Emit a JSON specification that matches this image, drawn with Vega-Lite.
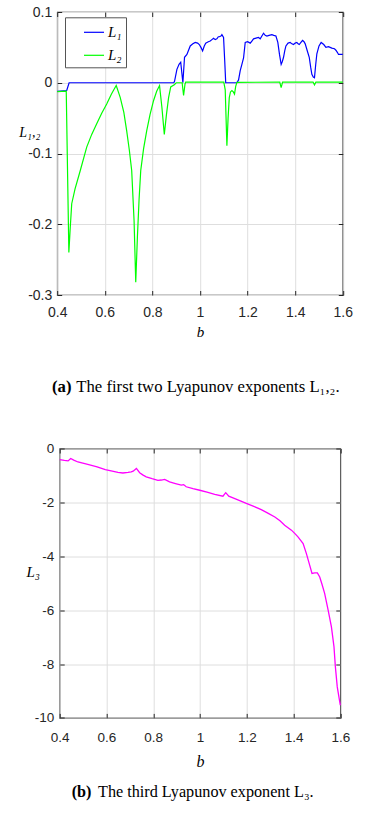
{
  "$schema": "https://vega.github.io/schema/vega-lite/v6.json",
  "padding": {"left": 18, "top": 4, "right": 5, "bottom": 5},
  "background": "white",
  "config": {
    "view": {"stroke": "#262626", "strokeWidth": 1.2},
    "font": "Liberation Sans"
  },
  "datasets": {
    "top": [
      {"b": 0.40, "L": -0.012, "s": "L₁"}, {"b": 0.44, "L": -0.011, "s": "L₁"}, {"b": 0.45, "L": 0, "s": "L₁"}, {"b": 0.89, "L": 0, "s": "L₁"},
      {"b": 0.893, "L": 0.002, "s": "L₁"}, {"b": 0.903, "L": 0.019, "s": "L₁"}, {"b": 0.912, "L": 0.026, "s": "L₁"}, {"b": 0.919, "L": 0.029, "s": "L₁"},
      {"b": 0.928, "L": 0, "s": "L₁"}, {"b": 0.935, "L": 0.036, "s": "L₁"}, {"b": 0.945, "L": 0.040, "s": "L₁"}, {"b": 0.959, "L": 0.052, "s": "L₁"},
      {"b": 0.970, "L": 0.055, "s": "L₁"}, {"b": 0.980, "L": 0.057, "s": "L₁"}, {"b": 0.990, "L": 0.056, "s": "L₁"}, {"b": 0.997, "L": 0.054, "s": "L₁"},
      {"b": 1.004, "L": 0.050, "s": "L₁"}, {"b": 1.011, "L": 0.045, "s": "L₁"}, {"b": 1.018, "L": 0.052, "s": "L₁"}, {"b": 1.024, "L": 0.056, "s": "L₁"},
      {"b": 1.035, "L": 0.058, "s": "L₁"}, {"b": 1.043, "L": 0.059, "s": "L₁"}, {"b": 1.050, "L": 0.061, "s": "L₁"}, {"b": 1.057, "L": 0.063, "s": "L₁"},
      {"b": 1.064, "L": 0.061, "s": "L₁"}, {"b": 1.071, "L": 0.062, "s": "L₁"}, {"b": 1.077, "L": 0.065, "s": "L₁"}, {"b": 1.081, "L": 0.065, "s": "L₁"},
      {"b": 1.088, "L": 0.066, "s": "L₁"}, {"b": 1.092, "L": 0.068, "s": "L₁"}, {"b": 1.099, "L": 0.064, "s": "L₁"}, {"b": 1.104, "L": 0.030, "s": "L₁"},
      {"b": 1.108, "L": 0, "s": "L₁"}, {"b": 1.155, "L": 0, "s": "L₁"}, {"b": 1.162, "L": 0.004, "s": "L₁"}, {"b": 1.169, "L": 0.017, "s": "L₁"},
      {"b": 1.176, "L": 0.026, "s": "L₁"}, {"b": 1.183, "L": 0.035, "s": "L₁"}, {"b": 1.190, "L": 0.057, "s": "L₁"}, {"b": 1.200, "L": 0.058, "s": "L₁"},
      {"b": 1.211, "L": 0.056, "s": "L₁"}, {"b": 1.218, "L": 0.059, "s": "L₁"}, {"b": 1.225, "L": 0.062, "s": "L₁"}, {"b": 1.235, "L": 0.063, "s": "L₁"},
      {"b": 1.246, "L": 0.064, "s": "L₁"}, {"b": 1.253, "L": 0.062, "s": "L₁"}, {"b": 1.260, "L": 0.066, "s": "L₁"}, {"b": 1.267, "L": 0.070, "s": "L₁"},
      {"b": 1.274, "L": 0.067, "s": "L₁"}, {"b": 1.281, "L": 0.066, "s": "L₁"}, {"b": 1.290, "L": 0.067, "s": "L₁"}, {"b": 1.302, "L": 0.068, "s": "L₁"},
      {"b": 1.310, "L": 0.067, "s": "L₁"}, {"b": 1.319, "L": 0.066, "s": "L₁"}, {"b": 1.327, "L": 0.057, "s": "L₁"}, {"b": 1.334, "L": 0.040, "s": "L₁"},
      {"b": 1.341, "L": 0.026, "s": "L₁"}, {"b": 1.346, "L": 0.030, "s": "L₁"}, {"b": 1.351, "L": 0.036, "s": "L₁"}, {"b": 1.356, "L": 0.045, "s": "L₁"},
      {"b": 1.361, "L": 0.052, "s": "L₁"}, {"b": 1.370, "L": 0.056, "s": "L₁"}, {"b": 1.379, "L": 0.057, "s": "L₁"}, {"b": 1.386, "L": 0.055, "s": "L₁"},
      {"b": 1.393, "L": 0.054, "s": "L₁"}, {"b": 1.400, "L": 0.056, "s": "L₁"}, {"b": 1.407, "L": 0.057, "s": "L₁"}, {"b": 1.412, "L": 0.055, "s": "L₁"},
      {"b": 1.417, "L": 0.054, "s": "L₁"}, {"b": 1.424, "L": 0.057, "s": "L₁"}, {"b": 1.431, "L": 0.060, "s": "L₁"}, {"b": 1.437, "L": 0.058, "s": "L₁"},
      {"b": 1.442, "L": 0.055, "s": "L₁"}, {"b": 1.450, "L": 0.046, "s": "L₁"}, {"b": 1.459, "L": 0.036, "s": "L₁"}, {"b": 1.465, "L": 0.022, "s": "L₁"},
      {"b": 1.470, "L": 0.012, "s": "L₁"}, {"b": 1.476, "L": 0.008, "s": "L₁"}, {"b": 1.481, "L": 0.007, "s": "L₁"}, {"b": 1.486, "L": 0.025, "s": "L₁"},
      {"b": 1.491, "L": 0.041, "s": "L₁"}, {"b": 1.500, "L": 0.052, "s": "L₁"}, {"b": 1.509, "L": 0.057, "s": "L₁"}, {"b": 1.520, "L": 0.054, "s": "L₁"},
      {"b": 1.529, "L": 0.050, "s": "L₁"}, {"b": 1.540, "L": 0.051, "s": "L₁"}, {"b": 1.554, "L": 0.049, "s": "L₁"}, {"b": 1.565, "L": 0.048, "s": "L₁"},
      {"b": 1.571, "L": 0.046, "s": "L₁"}, {"b": 1.577, "L": 0.043, "s": "L₁"}, {"b": 1.582, "L": 0.040, "s": "L₁"}, {"b": 1.600, "L": 0.040, "s": "L₁"},
      {"b": 0.400, "L": -0.0125, "s": "L₂"}, {"b": 0.438, "L": -0.012, "s": "L₂"}, {"b": 0.449, "L": -0.240, "s": "L₂"}, {"b": 0.455, "L": -0.204, "s": "L₂"},
      {"b": 0.461, "L": -0.171, "s": "L₂"}, {"b": 0.475, "L": -0.150, "s": "L₂"}, {"b": 0.497, "L": -0.124, "s": "L₂"}, {"b": 0.524, "L": -0.091, "s": "L₂"},
      {"b": 0.545, "L": -0.073, "s": "L₂"}, {"b": 0.566, "L": -0.058, "s": "L₂"}, {"b": 0.587, "L": -0.043, "s": "L₂"}, {"b": 0.608, "L": -0.030, "s": "L₂"},
      {"b": 0.628, "L": -0.016, "s": "L₂"}, {"b": 0.648, "L": -0.004, "s": "L₂"}, {"b": 0.665, "L": -0.021, "s": "L₂"}, {"b": 0.680, "L": -0.042, "s": "L₂"},
      {"b": 0.692, "L": -0.068, "s": "L₂"}, {"b": 0.703, "L": -0.095, "s": "L₂"}, {"b": 0.713, "L": -0.124, "s": "L₂"}, {"b": 0.723, "L": -0.195, "s": "L₂"},
      {"b": 0.730, "L": -0.282, "s": "L₂"}, {"b": 0.737, "L": -0.218, "s": "L₂"}, {"b": 0.744, "L": -0.165, "s": "L₂"}, {"b": 0.751, "L": -0.124, "s": "L₂"},
      {"b": 0.763, "L": -0.093, "s": "L₂"}, {"b": 0.776, "L": -0.068, "s": "L₂"}, {"b": 0.790, "L": -0.045, "s": "L₂"}, {"b": 0.805, "L": -0.025, "s": "L₂"},
      {"b": 0.818, "L": -0.012, "s": "L₂"}, {"b": 0.830, "L": -0.004, "s": "L₂"}, {"b": 0.840, "L": -0.035, "s": "L₂"}, {"b": 0.850, "L": -0.073, "s": "L₂"},
      {"b": 0.859, "L": -0.045, "s": "L₂"}, {"b": 0.868, "L": -0.021, "s": "L₂"}, {"b": 0.877, "L": -0.006, "s": "L₂"}, {"b": 0.892, "L": -0.003, "s": "L₂"},
      {"b": 0.900, "L": 0, "s": "L₂"}, {"b": 0.925, "L": 0, "s": "L₂"}, {"b": 0.931, "L": -0.018, "s": "L₂"}, {"b": 0.937, "L": -0.002, "s": "L₂"},
      {"b": 0.940, "L": 0.001, "s": "L₂"}, {"b": 1.100, "L": 0.001, "s": "L₂"}, {"b": 1.106, "L": -0.010, "s": "L₂"}, {"b": 1.113, "L": -0.089, "s": "L₂"},
      {"b": 1.118, "L": -0.050, "s": "L₂"}, {"b": 1.123, "L": -0.021, "s": "L₂"}, {"b": 1.128, "L": -0.013, "s": "L₂"}, {"b": 1.134, "L": -0.011, "s": "L₂"},
      {"b": 1.140, "L": -0.013, "s": "L₂"}, {"b": 1.145, "L": -0.016, "s": "L₂"}, {"b": 1.150, "L": -0.005, "s": "L₂"}, {"b": 1.155, "L": 0.0005, "s": "L₂"},
      {"b": 1.335, "L": 0.001, "s": "L₂"}, {"b": 1.341, "L": -0.007, "s": "L₂"}, {"b": 1.347, "L": 0.001, "s": "L₂"}, {"b": 1.475, "L": 0.001, "s": "L₂"},
      {"b": 1.481, "L": -0.003, "s": "L₂"}, {"b": 1.487, "L": 0.001, "s": "L₂"}, {"b": 1.600, "L": 0.001, "s": "L₂"}
    ],
    "bottom": [
      {"b": 0.400, "L": -0.41}, {"b": 0.420, "L": -0.44}, {"b": 0.436, "L": -0.46}, {"b": 0.447, "L": -0.37},
      {"b": 0.460, "L": -0.43}, {"b": 0.478, "L": -0.50}, {"b": 0.520, "L": -0.59}, {"b": 0.560, "L": -0.68},
      {"b": 0.595, "L": -0.78}, {"b": 0.620, "L": -0.83}, {"b": 0.649, "L": -0.89}, {"b": 0.670, "L": -0.91},
      {"b": 0.692, "L": -0.89}, {"b": 0.706, "L": -0.87}, {"b": 0.714, "L": -0.84}, {"b": 0.728, "L": -0.74},
      {"b": 0.742, "L": -0.90}, {"b": 0.755, "L": -0.98}, {"b": 0.770, "L": -1.05}, {"b": 0.795, "L": -1.12},
      {"b": 0.820, "L": -1.18}, {"b": 0.835, "L": -1.17}, {"b": 0.849, "L": -1.15}, {"b": 0.870, "L": -1.24},
      {"b": 0.895, "L": -1.30}, {"b": 0.920, "L": -1.36}, {"b": 0.930, "L": -1.34}, {"b": 0.941, "L": -1.42},
      {"b": 0.970, "L": -1.49}, {"b": 0.999, "L": -1.55}, {"b": 1.030, "L": -1.62}, {"b": 1.063, "L": -1.70},
      {"b": 1.098, "L": -1.77}, {"b": 1.110, "L": -1.64}, {"b": 1.123, "L": -1.77}, {"b": 1.149, "L": -1.86},
      {"b": 1.175, "L": -1.95}, {"b": 1.198, "L": -2.04}, {"b": 1.230, "L": -2.15}, {"b": 1.262, "L": -2.27},
      {"b": 1.290, "L": -2.40}, {"b": 1.320, "L": -2.54}, {"b": 1.342, "L": -2.68}, {"b": 1.362, "L": -2.85},
      {"b": 1.391, "L": -3.03}, {"b": 1.405, "L": -3.15}, {"b": 1.419, "L": -3.28}, {"b": 1.441, "L": -3.53},
      {"b": 1.455, "L": -3.90}, {"b": 1.469, "L": -4.33}, {"b": 1.479, "L": -4.64}, {"b": 1.491, "L": -4.62},
      {"b": 1.502, "L": -4.62}, {"b": 1.512, "L": -4.77}, {"b": 1.522, "L": -5.05}, {"b": 1.533, "L": -5.38},
      {"b": 1.548, "L": -6.00}, {"b": 1.562, "L": -6.62}, {"b": 1.573, "L": -7.36}, {"b": 1.579, "L": -8.11},
      {"b": 1.587, "L": -8.85}, {"b": 1.600, "L": -9.53}
    ]
  },
  "bounds": "flush",
  "center": true,
  "spacing": 153.5,
  "vconcat": [
    {
      "width": 285.6,
      "height": 283,
      "data": {"name": "top"},
      "layer": [
        {
          "mark": {"type": "line", "strokeWidth": 1.2},
          "encoding": {
            "x": {"field": "b", "type": "quantitative", "scale": {"domain": [0.4, 1.6], "nice": false, "zero": false},
              "axis": {"orient": "bottom", "values": [0.4, 0.6, 0.8, 1, 1.2, 1.4, 1.6], "title": "b",
                "titleFont": "Liberation Serif", "titleFontStyle": "italic", "titleFontWeight": "normal", "titleFontSize": 15, "titleColor": "#000",
                "titleY": 41.7, "titleBaseline": "alphabetic",
                "labelFont": "Liberation Sans Narrow, Arial Narrow, Liberation Sans", "labelFontSize": 14, "labelColor": "#262626", "labelPadding": 15,
                "labelFlush": false, "labelOverlap": false, "labelExpr": "replace(format(datum.value, '~g'), '−', '-')",
                "tickSize": -4.5, "tickColor": "#262626", "domain": false, "grid": true, "gridColor": "#dedede", "gridWidth": 1}},
            "y": {"field": "L", "type": "quantitative", "scale": {"domain": [-0.3, 0.1], "nice": false, "zero": false},
              "axis": {"orient": "left", "values": [-0.3, -0.2, -0.1, 0, 0.1], "title": "L₁,₂",
                "titleAngle": 0, "titleX": -27.9, "titleY": 124, "titleAlign": "center", "titleBaseline": "alphabetic",
                "titleFont": "Liberation Serif", "titleFontStyle": "italic", "titleFontWeight": "normal", "titleFontSize": 14, "titleColor": "#000",
                "labelFont": "Liberation Sans Narrow, Arial Narrow, Liberation Sans", "labelFontSize": 14, "labelColor": "#262626", "labelPadding": 9.9,
                "labelFlush": false, "labelOverlap": false, "labelExpr": "replace(format(datum.value, '~g'), '−', '-')",
                "tickSize": -4.5, "tickColor": "#262626", "domain": false, "grid": true, "gridColor": "#dedede", "gridWidth": 1}},
            "color": {"field": "s", "type": "nominal",
              "scale": {"domain": ["L₁", "L₂"], "range": ["#0000ff", "#00ff00"]},
              "legend": {"orient": "none", "legendX": 8, "legendY": 5.3, "title": null,
                "symbolType": "stroke", "symbolSize": 400, "symbolStrokeWidth": 1.2,
                "labelFont": "Liberation Serif", "labelFontStyle": "italic", "labelFontSize": 15, "labelColor": "#000",
                "labelExpr": "datum.label + '    '",
                "padding": 4, "rowPadding": 4, "symbolOffset": 14, "labelOffset": 3,
                "strokeColor": "#555555", "fillColor": "#ffffff"}}
          }
        },
        {
          "mark": {"type": "line", "opacity": 0},
          "encoding": {
            "x": {"field": "b", "type": "quantitative", "scale": {"domain": [0.4, 1.6], "nice": false, "zero": false},
              "axis": {"orient": "top", "values": [0.4, 0.6, 0.8, 1, 1.2, 1.4, 1.6], "labels": false,
                "title": "(a)", "titleX": -5.7, "titleY": 379, "titleAlign": "left", "titleBaseline": "alphabetic", "titleAngle": 0,
                "titleFont": "Liberation Serif", "titleFontSize": 16.7, "titleFontWeight": "bold", "titleColor": "#000",
                "tickSize": -4.5, "tickColor": "#262626", "domain": false, "grid": false}},
            "y": {"field": "L", "type": "quantitative", "scale": {"domain": [-0.3, 0.1], "nice": false, "zero": false},
              "axis": {"orient": "right", "values": [-0.3, -0.2, -0.1, 0, 0.1], "labels": false,
                "title": "The first two Lyapunov exponents L₁,₂.", "titleX": -267, "titleY": 379, "titleAlign": "left", "titleBaseline": "alphabetic", "titleAngle": 0,
                "titleFont": "Liberation Serif", "titleFontSize": 16.7, "titleFontWeight": "normal", "titleColor": "#000",
                "tickSize": -4.5, "tickColor": "#262626", "domain": false, "grid": false}}
          }
        }
      ],
      "resolve": {"axis": {"x": "independent", "y": "independent"}}
    },
    {
      "width": 280.6,
      "height": 269.4,
      "data": {"name": "bottom"},
      "layer": [
        {
          "mark": {"type": "line", "strokeWidth": 1.3, "color": "#ff00ff"},
          "encoding": {
            "x": {"field": "b", "type": "quantitative", "scale": {"domain": [0.4, 1.6], "nice": false, "zero": false},
              "axis": {"orient": "bottom", "values": [0.4, 0.6, 0.8, 1, 1.2, 1.4, 1.6], "title": "b",
                "titleFont": "Liberation Serif", "titleFontStyle": "italic", "titleFontWeight": "normal", "titleFontSize": 16, "titleColor": "#000",
                "titleY": 49, "titleBaseline": "alphabetic",
                "labelFont": "Liberation Sans", "labelFontSize": 13.5, "labelColor": "#262626", "labelPadding": 17.5,
                "labelFlush": false, "labelOverlap": false, "labelExpr": "replace(format(datum.value, '~g'), '−', '-')",
                "tickSize": -4.5, "tickColor": "#262626", "domain": false, "grid": true, "gridColor": "#dedede", "gridWidth": 1}},
            "y": {"field": "L", "type": "quantitative", "scale": {"domain": [-10, 0], "nice": false, "zero": false},
              "axis": {"orient": "left", "values": [-10, -8, -6, -4, -2, 0], "title": "L₃",
                "titleAngle": 0, "titleX": -27, "titleY": 128.4, "titleAlign": "center", "titleBaseline": "alphabetic",
                "titleFont": "Liberation Serif", "titleFontStyle": "italic", "titleFontWeight": "normal", "titleFontSize": 15, "titleColor": "#000",
                "labelFont": "Liberation Sans", "labelFontSize": 13.5, "labelColor": "#262626", "labelPadding": 10.5,
                "labelFlush": false, "labelOverlap": false, "labelExpr": "replace(format(datum.value, '~g'), '−', '-')",
                "tickSize": -4.5, "tickColor": "#262626", "domain": false, "grid": true, "gridColor": "#dedede", "gridWidth": 1}}
          }
        },
        {
          "mark": {"type": "line", "opacity": 0},
          "encoding": {
            "x": {"field": "b", "type": "quantitative", "scale": {"domain": [0.4, 1.6], "nice": false, "zero": false},
              "axis": {"orient": "top", "values": [0.4, 0.6, 0.8, 1, 1.2, 1.4, 1.6], "labels": false,
                "title": "(b)", "titleX": 11.5, "titleY": 347.7, "titleAlign": "left", "titleBaseline": "alphabetic", "titleAngle": 0,
                "titleFont": "Liberation Serif", "titleFontSize": 16.2, "titleFontWeight": "bold", "titleColor": "#000",
                "tickSize": -4.5, "tickColor": "#262626", "domain": false, "grid": false}},
            "y": {"field": "L", "type": "quantitative", "scale": {"domain": [-10, 0], "nice": false, "zero": false},
              "axis": {"orient": "right", "values": [-10, -8, -6, -4, -2, 0], "labels": false,
                "title": "The third Lyapunov exponent L₃.", "titleX": -242.8, "titleY": 347.7, "titleAlign": "left", "titleBaseline": "alphabetic", "titleAngle": 0,
                "titleFont": "Liberation Serif", "titleFontSize": 16.2, "titleFontWeight": "normal", "titleColor": "#000",
                "tickSize": -4.5, "tickColor": "#262626", "domain": false, "grid": false}}
          }
        }
      ],
      "resolve": {"axis": {"x": "independent", "y": "independent"}}
    }
  ]
}
